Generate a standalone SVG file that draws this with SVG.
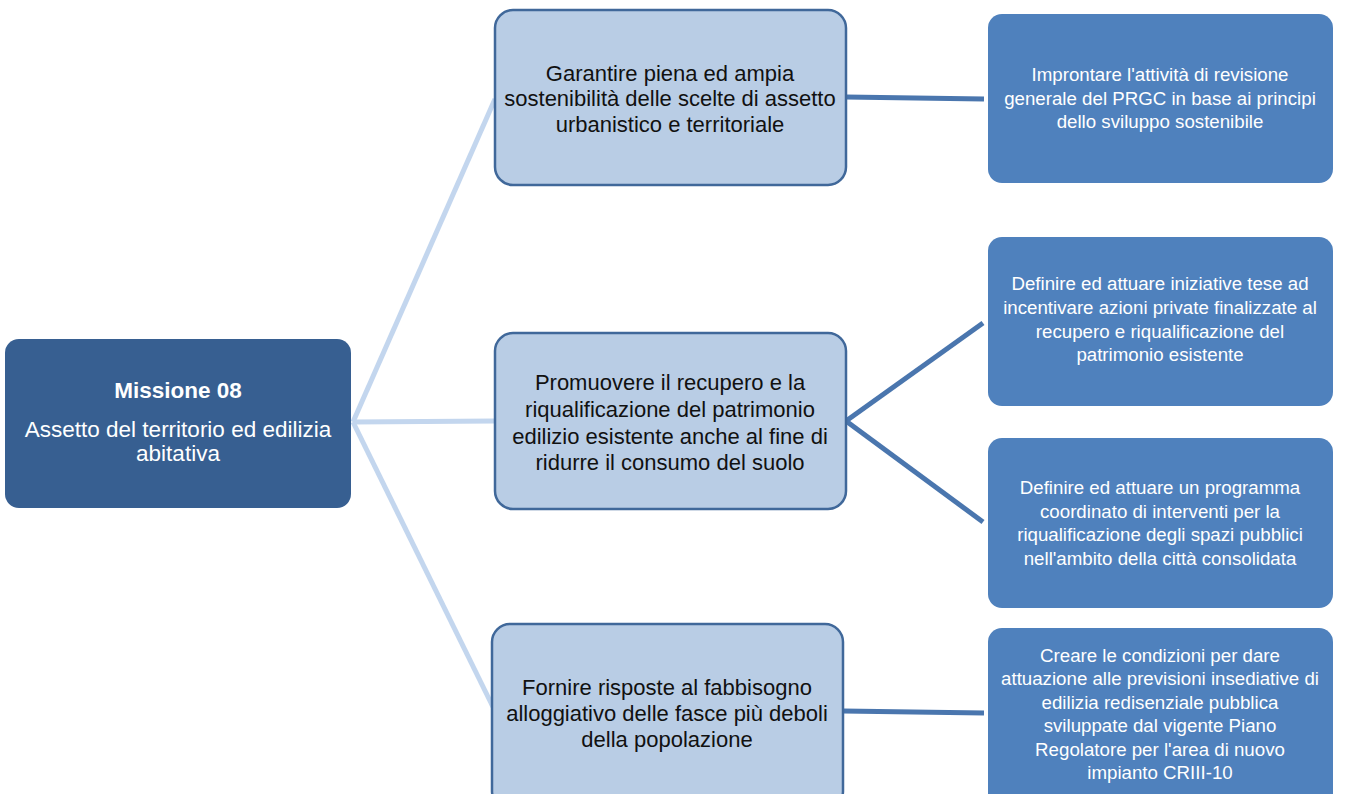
<svg xmlns="http://www.w3.org/2000/svg" width="1347" height="794" viewBox="0 0 1347 794">
<style>
.root rect{fill:#375F91}
.mid rect{fill:#B9CDE5;stroke:#40689A;stroke-width:2.5}
.leaf rect{fill:#4F81BD}
text{font-family:"Liberation Sans",Arial,sans-serif;text-anchor:middle}
.mid text{fill:#111;font-size:22px}
.leaf text{fill:#fff;font-size:18.7px}
.root text{fill:#fff;font-size:22.5px}
.c1{stroke:#C3D6EE;stroke-width:5;fill:none}
.c2{stroke:#4A76AE;stroke-width:5;fill:none}
</style>
<rect width="1347" height="794" fill="#fff"/>
<g id="connectors">
<line class="c1" x1="353" y1="422" x2="495" y2="99"/>
<line class="c1" x1="353" y1="422" x2="495" y2="421"/>
<line class="c1" x1="353" y1="422" x2="493" y2="707"/>
<line class="c2" x1="846" y1="97" x2="984" y2="99"/>
<line class="c2" x1="846" y1="421" x2="983" y2="323"/>
<line class="c2" x1="846" y1="421" x2="983" y2="522"/>
<line class="c2" x1="843" y1="711" x2="984" y2="713"/>
</g>
<g id="root" class="root">
<rect x="5" y="339" width="346" height="169" rx="14"/>
<text x="178" y="398" font-weight="bold" font-size="19.4px">Missione 08</text>
<text x="178" y="437">Assetto del territorio ed edilizia</text>
<text x="178" y="461">abitativa</text>
</g>
<g id="obj1" class="mid">
<rect x="495" y="10" width="351" height="175" rx="18"/>
<text x="670" y="81">Garantire piena ed ampia</text>
<text x="670" y="106">sostenibilità delle scelte di assetto</text>
<text x="670" y="132">urbanistico e territoriale</text>
</g>
<g id="obj2" class="mid">
<rect x="495" y="333" width="351" height="176" rx="18"/>
<text x="670" y="390">Promuovere il recupero e la</text>
<text x="670" y="417">riqualificazione del patrimonio</text>
<text x="670" y="444">edilizio esistente anche al fine di</text>
<text x="670" y="470">ridurre il consumo del suolo</text>
</g>
<g id="obj3" class="mid">
<rect x="492" y="624" width="351" height="185" rx="18"/>
<text x="667" y="695">Fornire risposte al fabbisogno</text>
<text x="667" y="721">alloggiativo delle fasce più deboli</text>
<text x="667" y="747">della popolazione</text>
</g>
<g id="act1" class="leaf">
<rect x="988" y="14" width="345" height="169" rx="14"/>
<text x="1160" y="81">Improntare l'attività di revisione</text>
<text x="1160" y="104.5">generale del PRGC in base ai principi</text>
<text x="1160" y="128">dello sviluppo sostenibile</text>
</g>
<g id="act2" class="leaf">
<rect x="988" y="237" width="345" height="169" rx="14"/>
<text x="1160" y="290">Definire ed attuare iniziative tese ad</text>
<text x="1160" y="314">incentivare azioni private finalizzate al</text>
<text x="1160" y="338">recupero e riqualificazione del</text>
<text x="1160" y="361">patrimonio esistente</text>
</g>
<g id="act3" class="leaf">
<rect x="988" y="438" width="345" height="170" rx="14"/>
<text x="1160" y="494">Definire ed attuare un programma</text>
<text x="1160" y="518">coordinato di interventi per la</text>
<text x="1160" y="541">riqualificazione degli spazi pubblici</text>
<text x="1160" y="565">nell'ambito della città consolidata</text>
</g>
<g id="act4" class="leaf">
<rect x="988" y="628" width="345" height="180" rx="14"/>
<text x="1160" y="662">Creare le condizioni per dare</text>
<text x="1160" y="685">attuazione alle previsioni insediative di</text>
<text x="1160" y="709">edilizia redisenziale pubblica</text>
<text x="1160" y="732">sviluppate dal vigente Piano</text>
<text x="1160" y="756">Regolatore per l'area di nuovo</text>
<text x="1160" y="779">impianto CRIII-10</text>
</g>
</svg>
